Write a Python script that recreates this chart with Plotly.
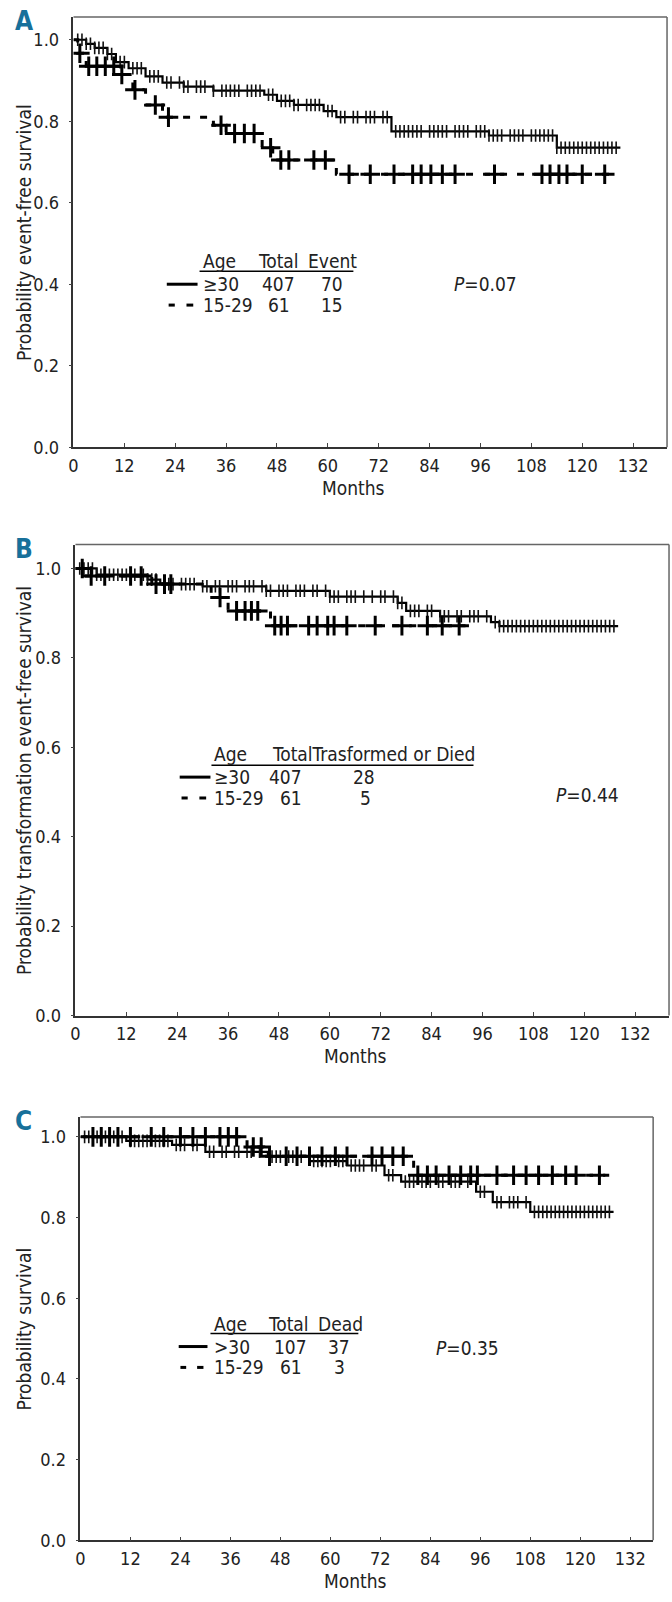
import plotly.graph_objects as go

W, H = 672, 1602
FONT = "Liberation Sans Narrow, Arial Narrow, DejaVu Sans Condensed, sans-serif"

# ---------------- data ----------------
# Panel A: event-free survival
a_old_t = [0, 3, 5, 8, 10, 13, 17, 21, 26, 33, 45, 48, 52, 59, 62, 75, 98, 114]
a_old_s = [1.0, 0.99, 0.98, 0.965, 0.945, 0.93, 0.91, 0.895, 0.885, 0.875, 0.865, 0.85, 0.84, 0.825, 0.81, 0.775, 0.765, 0.735]
a_old_end = 129
a_old_cens = [1, 2, 3, 4, 5, 6, 7, 8, 9, 11, 12, 14, 15, 16, 18, 19, 20, 22, 23, 25, 26, 27, 29, 30, 31,
              33, 35, 36, 37, 38, 39, 41, 42, 43, 44, 46, 47, 49, 50, 51, 52, 53, 55, 56, 57, 58, 60, 61,
              63, 64, 66, 67, 69, 70, 71, 73, 74, 76, 77, 78, 79, 80, 81, 82, 84, 85, 86, 87, 88, 90, 91,
              92, 93, 95, 96, 97, 98, 99, 100, 101, 103, 104, 105, 106, 108, 109, 110, 111, 112, 113,
              114, 115, 116, 117, 118, 119, 120, 121, 122, 123, 124, 125, 126, 127, 128]
a_young_t = [0, 1, 3, 11, 14, 17, 21, 33, 36, 44.5, 47, 62]
a_young_s = [1.0, 0.967, 0.935, 0.915, 0.877, 0.84, 0.81, 0.79, 0.77, 0.735, 0.705, 0.67]
a_young_end = 128
a_young_cens = [1.5, 3.6, 5.5, 7.5, 9.5, 11.4, 14.5, 19.3, 22.4, 34.8, 38, 40.3, 42.6, 46.5, 48.9, 50.8,
                56.7, 59.4, 65, 70, 75.6, 80, 82, 84.3, 87, 90, 99.3, 110.5, 112.4, 114.5, 116.4, 120, 125.3]

# Panel B: transformation event-free survival
b_old_t = [0, 5, 17, 20, 30, 45, 60, 76, 78, 86, 98, 100]
b_old_s = [1.0, 0.986, 0.975, 0.965, 0.96, 0.95, 0.937, 0.923, 0.905, 0.893, 0.88, 0.871]
b_old_end = 128
b_old_cens = [1, 2, 3, 4, 5, 6, 7, 8, 9, 10, 11, 12, 13, 14, 16, 17, 18, 19, 21, 22, 23, 25, 26, 27, 28,
              30, 31, 33, 34, 36, 37, 38, 40, 41, 42, 44, 45, 46, 48, 49, 50, 52, 53, 54, 56, 57, 59,
              60, 61, 62, 64, 65, 66, 68, 70, 72, 73, 75, 76, 77, 79, 80, 81, 83, 84, 86, 87, 88, 90,
              91, 93, 94, 95, 97, 99, 100, 101, 102, 103, 104, 105, 106, 107, 108, 109, 110, 111, 112,
              113, 114, 115, 116, 117, 118, 119, 120, 121, 122, 123, 124, 125, 126, 127]
b_young_t = [0, 2, 18, 32, 36, 46]
b_young_s = [1.0, 0.983, 0.965, 0.935, 0.905, 0.872]
b_young_end = 92
b_young_cens = [1.6, 3.7, 6.9, 13, 15.5, 19, 21, 22.5, 34.1, 38, 40, 41.5, 43, 47, 48.5, 50, 55, 57,
                59.5, 61, 64, 70.7, 77, 83, 86.5, 90.5]

# Panel C: overall survival
c_old_t = [0, 11, 22, 30, 45, 55, 64, 73, 77, 95, 99, 108]
c_old_s = [1.0, 0.99, 0.98, 0.963, 0.951, 0.94, 0.929, 0.905, 0.889, 0.864, 0.838, 0.814]
c_old_end = 128
c_old_cens = [1, 2, 3, 4, 5, 6, 7, 8, 9, 10, 12, 13, 14, 15, 16, 18, 19, 20, 21, 23, 24, 25, 27, 28,
              31, 32, 34, 35, 37, 38, 40, 41, 43, 46, 47, 48, 50, 51, 52, 53, 56, 57, 58, 59, 60, 62,
              63, 65, 66, 67, 68, 70, 71, 74, 75, 78, 79, 80, 82, 83, 84, 86, 87, 89, 90, 91, 93, 96,
              97, 100, 101, 103, 104, 105, 107, 109, 110, 111, 112, 113, 114, 115, 116, 117, 118, 119,
              120, 121, 122, 123, 124, 125, 126, 127]
c_young_t = [0, 40, 44, 80]
c_young_s = [1.0, 0.975, 0.952, 0.905]
c_young_end = 126
c_young_cens = [3, 5, 7, 9, 12, 17, 20, 24, 27, 30, 33.5, 35.5, 37.5, 41.5, 43.4, 45.4, 49.4, 52, 55,
                58, 61.2, 64, 70, 72.4, 75, 77.5, 81, 83.3, 85.4, 88.5, 91.3, 93.7, 95.3, 100, 104,
                107, 110, 113.3, 116.5, 119, 124.6]

x_ticks = [0, 12, 24, 36, 48, 60, 72, 84, 96, 108, 120, 132]
y_ticks = [0.0, 0.2, 0.4, 0.6, 0.8, 1.0]

# ---------------- layout geometry (pixels) ----------------
panels = [
    dict(letter="A", x0=69, x1=667, xmax=140, yt=17, yb=450, y10=40,
         ytitle="Probability event-free survival",
         old=(a_old_t, a_old_s, a_old_end, a_old_cens),
         young=(a_young_t, a_young_s, a_young_end, a_young_cens)),
    dict(letter="B", x0=71, x1=669, xmax=140, yt=548, yb=1022, y10=572,
         ytitle="Probability transformation event-free survival",
         old=(b_old_t, b_old_s, b_old_end, b_old_cens),
         young=(b_young_t, b_young_s, b_young_end, b_young_cens)),
    dict(letter="C", x0=76, x1=653, xmax=137.5, yt=1124, yb=1550, y10=1144,
         ytitle="Probability survival",
         old=(c_old_t, c_old_s, c_old_end, c_old_cens),
         young=(c_young_t, c_young_s, c_young_end, c_young_cens)),
]


def px(x):
    return x / W


def py(y):
    return 1 - y / H


def step_at(ts, ss, t):
    v = ss[0]
    for ti, si in zip(ts, ss):
        if t >= ti:
            v = si
    return v


fig = go.Figure()
annotations = []
shapes = []

for i, p in enumerate(panels):
    n = "" if i == 0 else str(i + 1)
    xa, ya = "x" + n, "y" + n
    ymax = 1 + (p["y10"] - p["yt"]) / (p["yb"] - p["y10"])
    axis_common = dict(showgrid=False, zeroline=False, showline=True, mirror=False,
                       linecolor="#333", linewidth=1.6,
                       tickfont=dict(family=FONT, size=18, color="#222"))
    fig.update_layout(**{
        "xaxis" + n: dict(domain=[px(p["x0"]), px(p["x1"])], range=[0, p["xmax"]],
                          tickvals=x_ticks, ticks="inside", ticklen=4, tickcolor="#444",
                          ticklabelstandoff=1, anchor=ya, **axis_common),
        "yaxis" + n: dict(domain=[py(p["yb"]), py(p["yt"])], range=[0, ymax],
                          tickvals=y_ticks, tickformat=".1f", ticks="outside", ticklen=3,
                          tickcolor="#444", ticklabelstandoff=6, anchor=xa, **axis_common),
    })
    # top / right frame (lighter)
    shapes.append(dict(type="line", xref="paper", yref="paper", x0=px(p["x0"]), x1=px(p["x1"]),
                       y0=py(p["yt"]), y1=py(p["yt"]), line=dict(color="#666", width=1.5)))
    shapes.append(dict(type="line", xref="paper", yref="paper", x0=px(p["x1"]), x1=px(p["x1"]),
                       y0=py(p["yt"]), y1=py(p["yb"]), line=dict(color="#666", width=1.5)))
    # old group: solid step line with tick censor marks
    ot, os_, oend, ocens = p["old"]
    fig.add_trace(go.Scatter(x=ot + [oend], y=os_ + [os_[-1]], mode="lines",
                             line=dict(color="black", width=2.2, shape="hv"),
                             xaxis=xa, yaxis=ya, showlegend=False))
    fig.add_trace(go.Scatter(x=ocens, y=[step_at(ot, os_, t) for t in ocens], mode="markers",
                             marker=dict(symbol="line-ns", size=9,
                                         line=dict(color="#111", width=1.6)),
                             xaxis=xa, yaxis=ya, showlegend=False))
    # young group: dashed step line with + censor marks
    yt_, ys_, yend, ycens = p["young"]
    fig.add_trace(go.Scatter(x=yt_ + [yend], y=ys_ + [ys_[-1]], mode="lines",
                             line=dict(color="black", width=3, shape="hv", dash="7px,10px"),
                             xaxis=xa, yaxis=ya, showlegend=False))
    fig.add_trace(go.Scatter(x=ycens, y=[step_at(yt_, ys_, t) for t in ycens], mode="markers",
                             marker=dict(symbol="cross-thin", size=14,
                                         line=dict(color="black", width=3)),
                             xaxis=xa, yaxis=ya, showlegend=False))
    # panel letter
    annotations.append(dict(text="<b>%s</b>" % p["letter"], x=px(8), y=py(p["yt"] + 4),
                            xref="paper", yref="paper", xanchor="left", yanchor="middle",
                            showarrow=False, font=dict(family=FONT, size=26, color="#17709a")))
    # y title
    annotations.append(dict(text=p["ytitle"], x=px(19), y=py((p["yt"] + p["yb"]) / 2),
                            xref="paper", yref="paper", textangle=-90, showarrow=False,
                            xanchor="center", yanchor="middle",
                            font=dict(family=FONT, size=19, color="#222")))
    # x title
    x132 = p["x0"] + 132 / p["xmax"] * (p["x1"] - p["x0"])
    annotations.append(dict(text="Months", x=px((p["x0"] + x132) / 2),
                            y=py(p["yb"] + 41), xref="paper", yref="paper", showarrow=False,
                            xanchor="center", yanchor="middle",
                            font=dict(family=FONT, size=19, color="#222")))

# ---------------- legend tables ----------------
LFS = 19


def txt(s, x, y, anchor="center", size=LFS):
    annotations.append(dict(text=s, x=px(x), y=py(y), xref="paper", yref="paper",
                            showarrow=False, xanchor=anchor, yanchor="middle",
                            font=dict(family=FONT, size=size, color="#222")))


def hline(x0, x1, y, width=1.5):
    shapes.append(dict(type="line", xref="paper", yref="paper", x0=px(x0), x1=px(x1),
                       y0=py(y), y1=py(y), line=dict(color="black", width=width)))


legend_rows = [
    dict(hy=263, uy=273, ux0=196, ux1=351, r1=286, r2=307,
         header=[("Age", 197, "left"), ("Total", 276, "center"), ("Event", 330, "center")],
         row1=[("≥30", 197, "left"), ("407", 276, "center"), ("70", 329, "center")],
         row2=[("15-29", 197, "left"), ("61", 276, "center"), ("15", 329, "center")],
         lx0=163, lx1=194, p=("<i>P</i>=0.07", 450, 286)),
    dict(hy=759, uy=770, ux0=208, ux1=472, r1=782, r2=803,
         header=[("Age", 209, "left"), ("TotalTrasformed or Died", 267, "left")],
         row1=[("≥30", 209, "left"), ("407", 283, "center"), ("28", 362, "center")],
         row2=[("15-29", 209, "left"), ("61", 288, "center"), ("5", 363, "center")],
         lx0=176, lx1=207, p=("<i>P</i>=0.44", 553, 800)),
    dict(hy=1332, uy=1342, ux0=207, ux1=356, r1=1355, r2=1376,
         header=[("Age", 209, "left"), ("Total", 286, "center"), ("Dead", 338, "center")],
         row1=[(">30", 209, "left"), ("107", 288, "center"), ("37", 337, "center")],
         row2=[("15-29", 209, "left"), ("61", 288, "center"), ("3", 337, "center")],
         lx0=175, lx1=204, p=("<i>P</i>=0.35", 432, 1356)),
]

for L in legend_rows:
    for s, x, a in L["header"]:
        txt(s, x, L["hy"], a)
    hline(L["ux0"], L["ux1"], L["uy"], width=1.5)
    for s, x, a in L["row1"]:
        txt(s, x, L["r1"], a)
    for s, x, a in L["row2"]:
        txt(s, x, L["r2"], a)
    hline(L["lx0"], L["lx1"], L["r1"], width=3)
    seg = (L["lx1"] - L["lx0"]) / 5
    hline(L["lx0"] + 0.3 * seg, L["lx0"] + 1.3 * seg, L["r2"], width=3)
    hline(L["lx0"] + 3.2 * seg, L["lx0"] + 4.3 * seg, L["r2"], width=3)
    ptxt, pxx, pyy = L["p"]
    txt(ptxt, pxx, pyy, "left", size=LFS)

fig.update_layout(width=W, height=H, margin=dict(l=0, r=0, t=0, b=0),
                  paper_bgcolor="white", plot_bgcolor="white",
                  annotations=annotations, shapes=shapes, showlegend=False)

fig.write_html("out.html", config={"displayModeBar": False},
               post_script="document.body.style.margin='0';document.body.style.overflow='hidden';")
